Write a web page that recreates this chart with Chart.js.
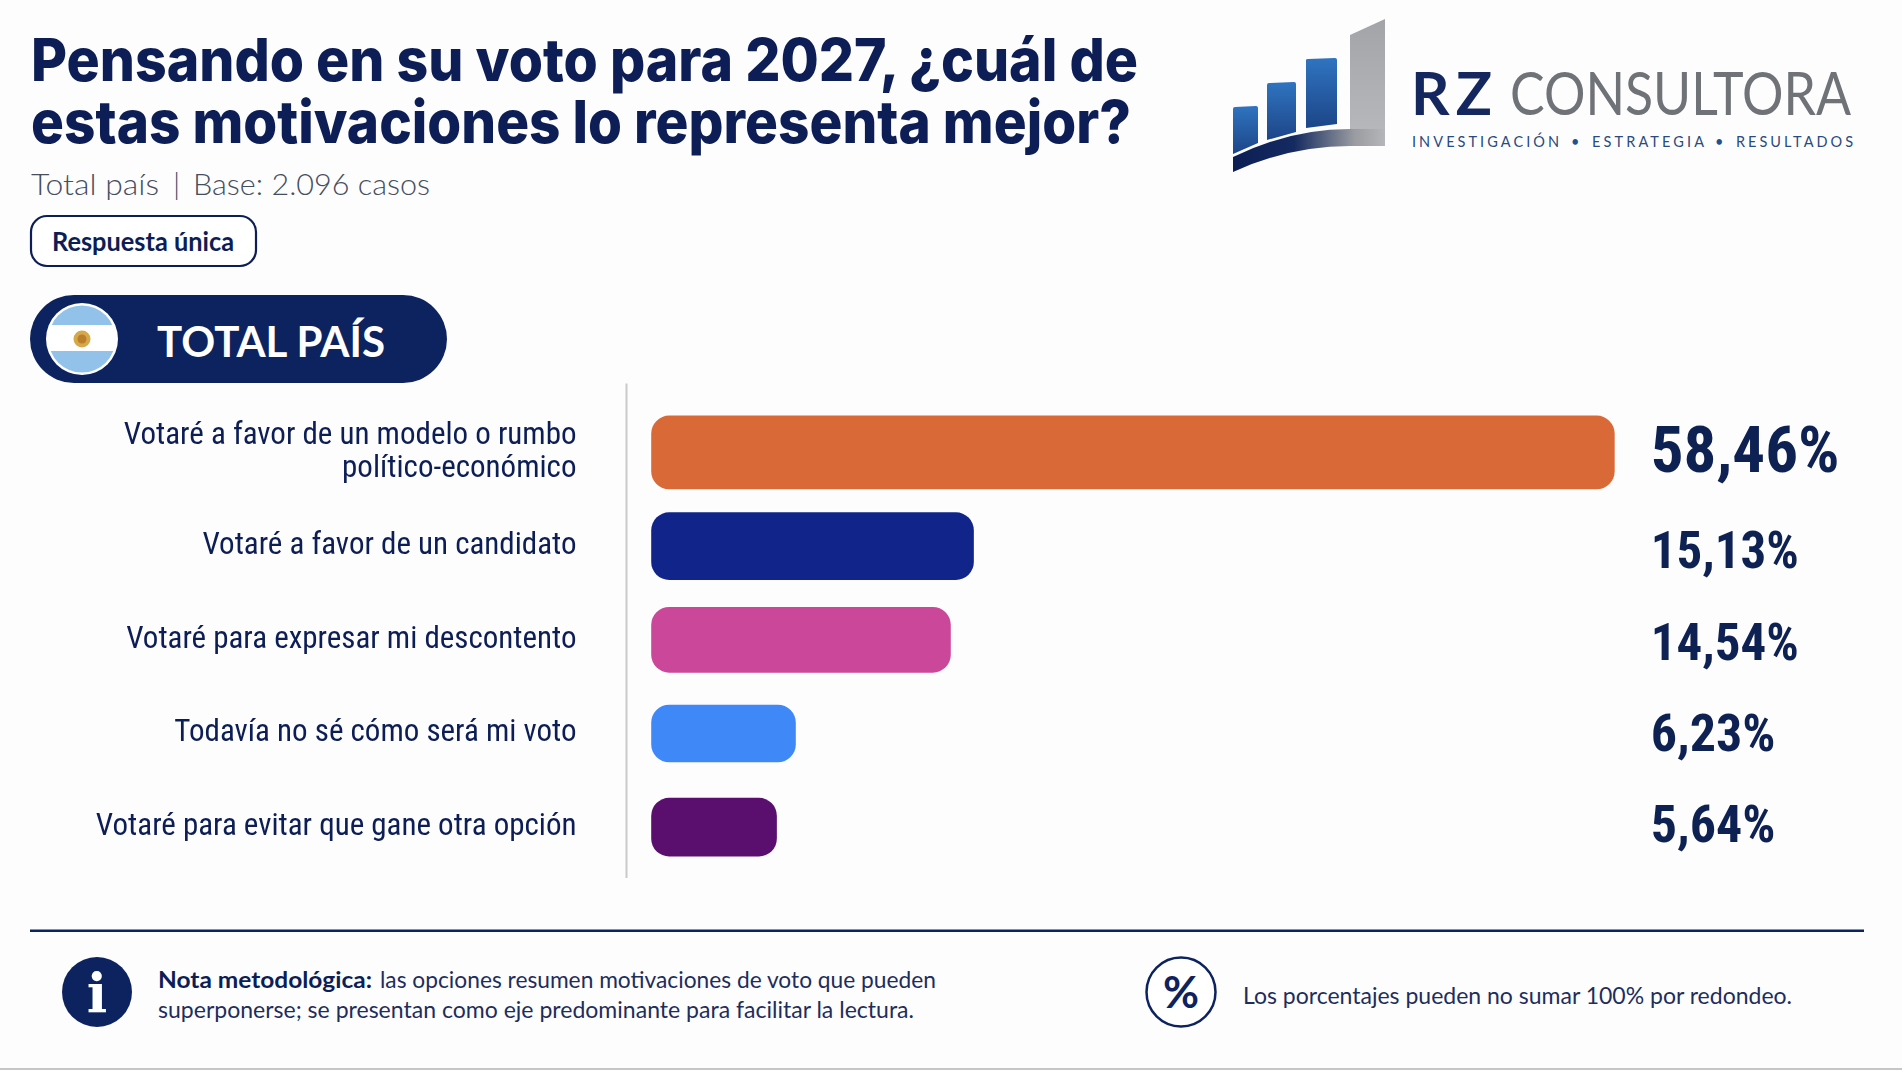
<!DOCTYPE html>
<html lang="es">
<head>
<meta charset="utf-8">
<title>RZ Consultora</title>
<script src="https://cdn.jsdelivr.net/npm/chart.js@4"></script>
<style>
  html, body { margin: 0; padding: 0; background: #fdfdfe; }
  body { width: 1902px; height: 1070px; position: relative; overflow: hidden; }
  #art { position: absolute; left: 0; top: 0; }
  #chartBox { position: absolute; left: 0; top: 370px; width: 1902px; height: 520px; }
  text { font-family: Lato, sans-serif; }
</style>
</head>
<body>
<svg id="art" width="1902" height="1070" viewBox="0 0 1902 1070">
  <defs>
    <linearGradient id="barFill" x1="0" y1="0" x2="0" y2="1">
      <stop offset="0" stop-color="#2f74c0"/><stop offset="1" stop-color="#1d4588"/>
    </linearGradient>
    <linearGradient id="greyFill" x1="0" y1="0" x2="0" y2="1">
      <stop offset="0" stop-color="#a2a4a8"/><stop offset="1" stop-color="#b9babd"/>
    </linearGradient>
    <linearGradient id="swoosh" x1="0" y1="0" x2="1" y2="0">
      <stop offset="0" stop-color="#0c1f55"/><stop offset="0.4" stop-color="#142a60"/><stop offset="0.8" stop-color="#9a9ca1"/><stop offset="1" stop-color="#b5b6b9"/>
    </linearGradient>
    <clipPath id="flagClip"><circle cx="82" cy="339" r="33.5"/></clipPath>
  </defs>

  <!-- heading -->
  <text x="31" y="81" fill="#0c1e55" font-size="59" font-weight="800" style="font-family: Inter" textLength="1107" lengthAdjust="spacingAndGlyphs">Pensando en su voto para 2027, ¿cuál de</text>
  <text x="31" y="143" fill="#0c1e55" font-size="59" font-weight="800" style="font-family: Inter" textLength="1100" lengthAdjust="spacingAndGlyphs">estas motivaciones lo representa mejor?</text>
  <text x="31" y="195" fill="#454e60" font-size="30" font-weight="300" textLength="128" lengthAdjust="spacingAndGlyphs">Total país</text>
  <text x="173" y="195" fill="#454e60" font-size="30" font-weight="300">|</text>
  <text x="193" y="195" fill="#454e60" font-size="30" font-weight="300" textLength="237" lengthAdjust="spacingAndGlyphs">Base: 2.096 casos</text>

  <rect x="31" y="216" width="225" height="50" rx="16" fill="#fff" stroke="#0c1e55" stroke-width="2.2"/>
  <text x="52" y="251" fill="#0c1e55" font-size="26" font-weight="700" textLength="182" lengthAdjust="spacingAndGlyphs">Respuesta única</text>

  <!-- total pais pill -->
  <rect x="30" y="295" width="417" height="88" rx="44" fill="#0d2360"/>
  <circle cx="82" cy="339" r="36" fill="#fff"/>
  <g clip-path="url(#flagClip)">
    <rect x="45" y="303" width="74" height="22" fill="#92c2ea"/>
    <rect x="45" y="325" width="74" height="26" fill="#fff"/>
    <rect x="45" y="351" width="74" height="24" fill="#92c2ea"/>
  </g>
  <circle cx="82" cy="339" r="8.5" fill="#d6a84a"/>
  <circle cx="82" cy="339" r="4.5" fill="#b97f2a"/>
  <text x="157" y="357" fill="#fff" font-size="42" font-weight="700" textLength="228" lengthAdjust="spacingAndGlyphs">TOTAL PAÍS</text>

  <!-- logo -->
  <path d="M1233 109 Q1233 107 1235 107 L1256 106 Q1258 106 1258 108 L1258 143 L1233 154 Z" fill="url(#barFill)"/>
  <path d="M1267 85 Q1267 83 1269 83 L1294 82 Q1296 82 1296 84 L1296 132 L1267 140 Z" fill="url(#barFill)"/>
  <path d="M1306 60 Q1306 59 1308 59 L1335 58 Q1337 58 1337 60 L1337 124 L1306 128 Z" fill="url(#barFill)"/>
  <path d="M1350 35 L1385 19 L1385 146 L1350 146 Z" fill="url(#greyFill)"/>
  <path d="M1233 157 Q1290 129 1350 129 L1385 129 L1385 146 L1350 146 Q1290 146 1233 172 Z" fill="url(#swoosh)"/>
  <text x="1411" y="115" fill="#14275f" font-size="60" font-weight="700" textLength="81" lengthAdjust="spacing">RZ</text>
  <text x="1510" y="115" fill="#6f7277" font-size="60" font-weight="400" textLength="341" lengthAdjust="spacingAndGlyphs">CONSULTORA</text>
  <g fill="#2a4a80" font-size="14.5">
    <text x="1412" y="147" textLength="147">INVESTIGACIÓN</text>
    <text x="1571" y="147" fill="#1f4f96">•</text>
    <text x="1592" y="147" textLength="112">ESTRATEGIA</text>
    <text x="1715" y="147" fill="#1f4f96">•</text>
    <text x="1736" y="147" textLength="117">RESULTADOS</text>
  </g>

  <!-- footer -->
  <rect x="30" y="929.5" width="1834" height="2.5" fill="#0d2360"/>
  <circle cx="97" cy="992" r="35" fill="#0d2360"/>
  <text x="97" y="1012" fill="#fff" font-size="54" font-weight="700" text-anchor="middle" style="font-family: 'DejaVu Serif'">i</text>
  <text x="158" y="988" fill="#0c1e55" font-size="22.5" font-weight="700" textLength="214" lengthAdjust="spacingAndGlyphs">Nota metodológica:</text>
  <text x="380" y="988" fill="#1e2d5c" font-size="22.5" textLength="556" lengthAdjust="spacingAndGlyphs">las opciones resumen motivaciones de voto que pueden</text>
  <text x="158" y="1018" fill="#1e2d5c" font-size="22.5" textLength="756" lengthAdjust="spacingAndGlyphs">superponerse; se presentan como eje predominante para facilitar la lectura.</text>
  <circle cx="1181" cy="992" r="34.5" fill="#fff" stroke="#0d2360" stroke-width="2.5"/>
  <text x="1181" y="1008" fill="#0d2360" font-size="44" font-weight="700" text-anchor="middle">%</text>
  <text x="1243" y="1004" fill="#1e2d5c" font-size="22.5" textLength="549" lengthAdjust="spacingAndGlyphs">Los porcentajes pueden no sumar 100% por redondeo.</text>
  <rect x="0" y="1068" width="1902" height="2" fill="#c6c6c6"/>
</svg>

<div id="chartBox"><canvas id="motivChart" width="1902" height="520"></canvas></div>

<script>
// ===== DATA =====
const categories = [
  ["Votaré a favor de un modelo o rumbo", "político-económico"],
  "Votaré a favor de un candidato",
  "Votaré para expresar mi descontento",
  "Todavía no sé cómo será mi voto",
  "Votaré para evitar que gane otra opción",
];
// printed figures
const valueLabels = ["58,46%", "15,13%", "14,54%", "6,23%", "5,64%"];
// lengths as drawn in the picture, orange bar = 58.46. The original bars are
// not to scale with their printed figures, so these differ from valueLabels.
const barLengths = [58.46, 19.55, 18.15, 8.74, 7.59];

// ===== STYLE =====
const barColors = ["#d96a38", "#10248a", "#cb4799", "#3f88f7", "#5a0f6e"];
const barHeights = [73, 67, 65, 57, 58];
const valueFontSizes = [65, 51, 51, 52, 52];
const valueNudges = [3, 9, 7, 5, 2];
const inkColor = "#0c1e55";

// value column + the vertical rule that runs a bit past the plot area
const sidePlugin = {
  id: "sidePlugin",
  beforeDatasetsDraw(chart) {
    const { ctx, chartArea } = chart;
    ctx.save();
    ctx.strokeStyle = "#c9cacc";
    ctx.lineWidth = 2;
    ctx.beginPath();
    ctx.moveTo(chartArea.left, chartArea.top - 22);
    ctx.lineTo(chartArea.left, chartArea.bottom + 4);
    ctx.stroke();
    ctx.restore();
  },
  afterDatasetsDraw(chart) {
    const { ctx, chartArea, scales } = chart;
    ctx.save();
    ctx.fillStyle = "#0e2153";
    ctx.textAlign = "left";
    ctx.textBaseline = "middle";
    valueLabels.forEach((label, i) => {
      ctx.font = "700 condensed " + valueFontSizes[i] + "px Roboto";
      ctx.fillText(label, chartArea.right + 11, scales.y.getPixelForValue(i) + valueNudges[i]);
    });
    ctx.restore();
  },
};

new Chart(document.getElementById("motivChart").getContext("2d"), {
  type: "bar",
  data: {
    labels: categories,
    // one dataset per bar, because thickness is a per-dataset option
    datasets: barLengths.map((len, i) => ({
      data: barLengths.map((_, j) => (j === i ? len : null)),
      backgroundColor: barColors[i],
      barThickness: barHeights[i],
      borderRadius: 18,
      borderSkipped: false,
      grouped: false,
    })),
  },
  options: {
    indexAxis: "y",
    responsive: false,
    animation: false,
    layout: { padding: { top: 35.6, bottom: 16, left: 0, right: 262.3 } },
    plugins: { legend: { display: false }, tooltip: { enabled: false } },
    scales: {
      x: { display: false, min: -1.52, max: 60 },
      y: {
        afterFit(scale) {
          scale.width = 626.5;
          // tick padding otherwise also eats into the top and bottom
          scale.paddingTop = 0;
          scale.paddingBottom = 0;
        },
        grid: { display: false, drawTicks: false },
        border: { display: false },
        ticks: {
          padding: 50,
          color: inkColor,
          // "condensed" goes straight into the canvas font string
          font: { family: "Roboto", size: 31, weight: "400 condensed", lineHeight: 1.07 },
        },
      },
    },
  },
  plugins: [sidePlugin],
});
</script>
</body>
</html>
